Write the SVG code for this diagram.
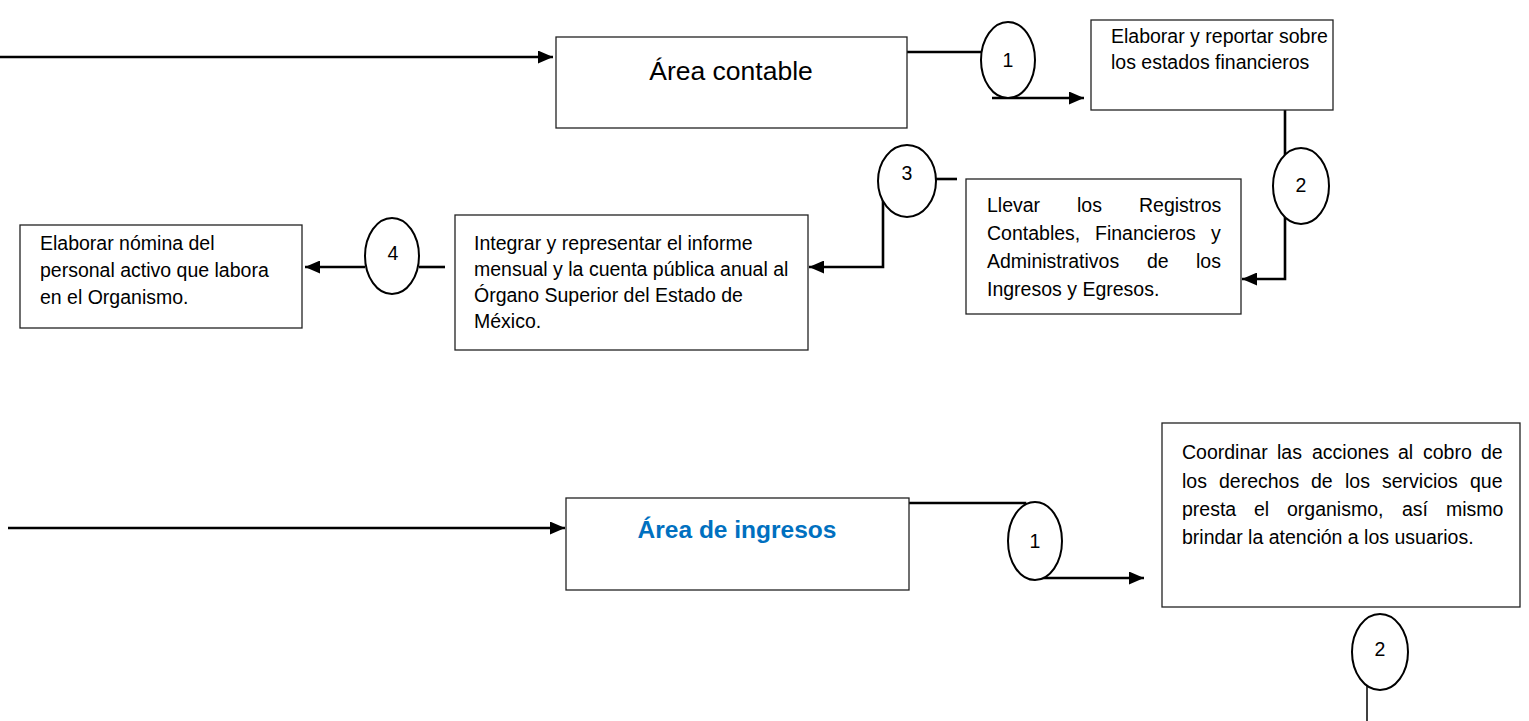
<svg xmlns="http://www.w3.org/2000/svg" width="1529" height="721" viewBox="0 0 1529 721">
<defs>
<marker id="ah" markerWidth="15" markerHeight="13" refX="15" refY="6.5" orient="auto" markerUnits="userSpaceOnUse"><path d="M0,0 L15,6.5 L0,13 Z" fill="#000"/></marker>
<style>
.box{fill:#fff;stroke:#222;stroke-width:1.3}
.circ{fill:#fff;stroke:#000;stroke-width:2}
.con{fill:none;stroke:#000;stroke-width:2.6}
.conT{fill:none;stroke:#000;stroke-width:1.5}
.t{font-family:"Liberation Sans",Arial,sans-serif;font-size:19.5px;fill:#000}
.n{font-family:"Liberation Sans",Arial,sans-serif;font-size:19.5px;fill:#000;text-anchor:middle}
.big{font-family:"Liberation Sans",Arial,sans-serif;font-size:26.5px;fill:#000;text-anchor:middle}
.blue{font-family:"Liberation Sans",Arial,sans-serif;font-size:24.5px;font-weight:bold;fill:#0070C0;text-anchor:middle}
</style>
</defs>
<rect width="1529" height="721" fill="#fff"/>
<g id="connectors">
<line class="con" x1="0" y1="57" x2="553" y2="57" marker-end="url(#ah)"/>
<polyline class="con" points="907,52 982,52"/>
<line class="con" x1="992" y1="98" x2="1084" y2="98" marker-end="url(#ah)"/>
<line class="con" x1="1285" y1="110" x2="1285" y2="156"/>
<polyline class="con" points="1285,216 1285,279 1242,279" marker-end="url(#ah)"/>
<line class="con" x1="936" y1="179" x2="957" y2="179"/>
<polyline class="con" points="883,200 883,267 809,267" marker-end="url(#ah)"/>
<line class="con" x1="419" y1="267" x2="445" y2="267"/>
<line class="con" x1="365" y1="267" x2="305" y2="267" marker-end="url(#ah)"/>
<line class="con" x1="8" y1="528" x2="565" y2="528" marker-end="url(#ah)"/>
<polyline class="con" points="905,503 1025,503 1025,507"/>
<line class="con" x1="1042" y1="578" x2="1144" y2="578" marker-end="url(#ah)"/>
<line class="conT" x1="1367" y1="686" x2="1367" y2="721"/>
</g>
<g id="area-contable">
<rect class="box" x="556" y="37" width="351" height="91"/>
<text class="big" x="731" y="80">Área contable</text>
</g>
<g id="c1-top">
<ellipse class="circ" cx="1008" cy="60" rx="27" ry="38"/>
<text class="n" x="1008" y="67">1</text>
</g>
<g id="elaborar-reportar">
<rect class="box" x="1091" y="20" width="242" height="90"/>
<text class="t" x="1111" y="43">Elaborar y reportar sobre</text>
<text class="t" x="1111" y="69">los estados financieros</text>
</g>
<g id="c2-top">
<ellipse class="circ" cx="1301" cy="186" rx="28" ry="38"/>
<text class="n" x="1301" y="192">2</text>
</g>
<g id="llevar-registros">
<rect class="box" x="966" y="179" width="275" height="135"/>
<text class="t" y="212"><tspan x="987">Llevar</tspan><tspan x="1077">los</tspan><tspan x="1139">Registros</tspan></text>
<text class="t" y="240"><tspan x="987">Contables,</tspan><tspan x="1095">Financieros</tspan><tspan x="1211">y</tspan></text>
<text class="t" y="268"><tspan x="987">Administrativos</tspan><tspan x="1147">de</tspan><tspan x="1196">los</tspan></text>
<text class="t" x="987" y="296">Ingresos y Egresos.</text>
</g>
<g id="c3-top">
<ellipse class="circ" cx="907" cy="181" rx="29" ry="36"/>
<text class="n" x="907" y="180">3</text>
</g>
<g id="integrar-informe">
<rect class="box" x="455" y="215" width="353" height="135"/>
<text class="t" x="474" y="250">Integrar y representar el informe</text>
<text class="t" x="474" y="276">mensual y la cuenta pública anual al</text>
<text class="t" x="474" y="302">Órgano Superior del Estado de</text>
<text class="t" x="474" y="328">México.</text>
</g>
<g id="c4-top">
<ellipse class="circ" cx="392" cy="256" rx="27" ry="38"/>
<text class="n" x="393" y="260">4</text>
</g>
<g id="elaborar-nomina">
<rect class="box" x="20" y="225" width="282" height="103"/>
<text class="t" x="40" y="250">Elaborar nómina del</text>
<text class="t" x="40" y="277">personal activo que labora</text>
<text class="t" x="40" y="304">en el Organismo.</text>
</g>
<g id="area-ingresos">
<rect class="box" x="566" y="498" width="343" height="92"/>
<text class="blue" x="737" y="538">Área de ingresos</text>
</g>
<g id="c1-bottom">
<ellipse class="circ" cx="1035" cy="541" rx="27" ry="39"/>
<text class="n" x="1035" y="548">1</text>
</g>
<g id="coordinar-acciones">
<rect class="box" x="1162" y="423" width="358" height="184"/>
<text class="t" y="459"><tspan x="1182">Coordinar</tspan><tspan x="1277">las</tspan><tspan x="1312">acciones</tspan><tspan x="1398">al</tspan><tspan x="1423">cobro</tspan><tspan x="1481">de</tspan></text>
<text class="t" y="488"><tspan x="1182">los</tspan><tspan x="1219">derechos</tspan><tspan x="1311">de</tspan><tspan x="1345">los</tspan><tspan x="1382">servicios</tspan><tspan x="1470">que</tspan></text>
<text class="t" y="516"><tspan x="1182">presta</tspan><tspan x="1254">el</tspan><tspan x="1287">organismo,</tspan><tspan x="1402">así</tspan><tspan x="1446">mismo</tspan></text>
<text class="t" x="1182" y="544">brindar la atención a los usuarios.</text>
</g>
<g id="c2-bottom">
<ellipse class="circ" cx="1380" cy="652" rx="28" ry="38"/>
<text class="n" x="1380" y="656">2</text>
</g>
</svg>
